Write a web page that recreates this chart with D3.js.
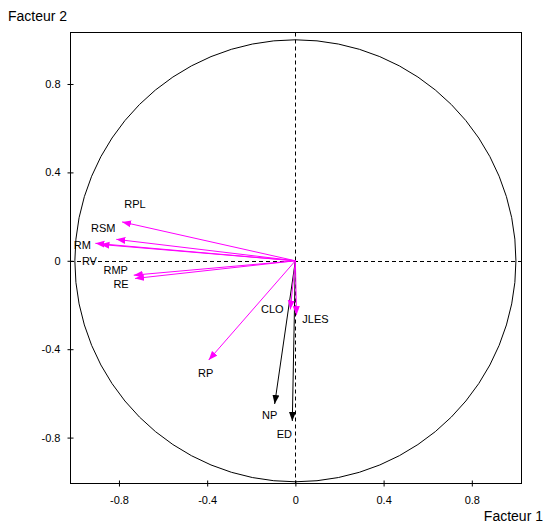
<!DOCTYPE html>
<html>
<head>
<meta charset="utf-8">
<script src="https://cdn.jsdelivr.net/npm/d3@7"></script>
<style>
  body { margin: 0; background: #fff; }
  svg text { font-family: "Liberation Sans", Arial, sans-serif; fill: #000; }
</style>
</head>
<body>
<div id="chart"></div>
<script>
// active variables (magenta) : coordinates on factor 1 / factor 2
const activeNames = ["RPL", "RSM", "RM", "RV", "RMP", "RE", "RP", "CLO", "JLES"];
const activeF1 = [-0.786, -0.812, -0.907, -0.884, -0.733, -0.727, -0.393, -0.023, 0.005];
const activeF2 = [0.176, 0.097, 0.079, 0.074, -0.065, -0.080, -0.449, -0.220, -0.246];

// supplementary variables (black)
const supNames = ["NP", "ED"];
const supF1 = [-0.094, -0.014];
const supF2 = [-0.648, -0.725];

const tickValues = [-0.8, -0.4, 0, 0.4, 0.8];

// label offsets (pixels) relative to arrow heads
const labelOffsets = {
    RPL: [13, -18], RSM: [-13, -11], RM: [-13, 2], RV: [-11, 17],
    RMP: [-18, -5], RE: [-14, 6], RP: [-3, 13], CLO: [-18, 0],
    JLES: [19, 4], NP: [-5, 11], ED: [-8, 13]
};

const width = 545, height = 525;
const x = d3.scaleLinear().domain([-1.022, 1.023]).range([70, 521]);
const y = d3.scaleLinear().domain([-1.01, 1.033]).range([484, 32.5]);

const svg = d3.select("#chart").append("svg")
    .attr("width", width)
    .attr("height", height);

const defs = svg.append("defs");
[["head-mag", "#ff00ff"], ["head-blk", "#000"]].forEach(([id, col]) => {
    defs.append("marker")
        .attr("id", id)
        .attr("markerUnits", "userSpaceOnUse")
        .attr("viewBox", "0 -4 10 8")
        .attr("refX", 9)
        .attr("refY", 0)
        .attr("markerWidth", 10)
        .attr("markerHeight", 8)
        .attr("orient", "auto")
        .append("path")
        .attr("d", "M0,-3.5L9,0L0,3.5Z")
        .attr("fill", col);
});

// unit circle
svg.append("ellipse")
    .attr("cx", x(0))
    .attr("cy", y(0))
    .attr("rx", x(1) - x(0))
    .attr("ry", y(0) - y(1))
    .attr("fill", "none")
    .attr("stroke", "#000")
    .attr("stroke-width", 1);

// dashed axes through origin
svg.append("line")
    .attr("x1", x.range()[0]).attr("x2", x.range()[1])
    .attr("y1", Math.round(y(0)) + 0.5).attr("y2", Math.round(y(0)) + 0.5)
    .attr("stroke", "#000").attr("stroke-dasharray", "4,3");
svg.append("line")
    .attr("x1", Math.round(x(0)) + 0.5).attr("x2", Math.round(x(0)) + 0.5)
    .attr("y1", y.range()[1]).attr("y2", y.range()[0])
    .attr("stroke", "#000").attr("stroke-dasharray", "4,3");

// frame
svg.append("rect")
    .attr("x", 70.5).attr("y", 32.5)
    .attr("width", 451).attr("height", 451)
    .attr("fill", "none")
    .attr("stroke", "#000");

// axes
const fmt = d => String(d);
const xAxis = svg.append("g")
    .attr("transform", "translate(0,483.5)")
    .call(d3.axisBottom(x).tickValues(tickValues).tickSize(3).tickFormat(fmt));
const yAxis = svg.append("g")
    .attr("transform", "translate(70.5,0)")
    .call(d3.axisLeft(y).tickValues(tickValues).tickSize(3).tickFormat(fmt));

[xAxis, yAxis].forEach(g => {
    g.select(".domain").remove();
    g.selectAll("text").attr("font-size", 11).attr("font-family", null);
});
xAxis.selectAll(".tick line").attr("y1", -3).attr("y2", 3);
xAxis.selectAll(".tick text").attr("y", 13);
yAxis.selectAll(".tick line").attr("x1", -3).attr("x2", 3);
yAxis.selectAll(".tick text").attr("x", -10);

// arrows
const sup = supNames.map((n, i) => ({ name: n, f1: supF1[i], f2: supF2[i], col: "#000", marker: "head-blk" }));
const act = activeNames.map((n, i) => ({ name: n, f1: activeF1[i], f2: activeF2[i], col: "#ff00ff", marker: "head-mag" }));
const all = sup.concat(act);

svg.append("g").selectAll("line")
    .data(all)
    .join("line")
    .attr("x1", x(0)).attr("y1", y(0))
    .attr("x2", d => x(d.f1)).attr("y2", d => y(d.f2))
    .attr("stroke", d => d.col)
    .attr("stroke-width", 1)
    .attr("marker-end", d => `url(#${d.marker})`);

svg.append("g").selectAll("text")
    .data(all)
    .join("text")
    .attr("x", d => x(d.f1) + labelOffsets[d.name][0])
    .attr("y", d => y(d.f2) + labelOffsets[d.name][1])
    .attr("dy", "0.35em")
    .attr("text-anchor", "middle")
    .attr("font-size", 11)
    .text(d => d.name);

// axis titles
svg.append("text")
    .attr("x", 8).attr("y", 21)
    .attr("font-size", 14)
    .text("Facteur 2");
svg.append("text")
    .attr("x", 543).attr("y", 521)
    .attr("text-anchor", "end")
    .attr("font-size", 14)
    .text("Facteur 1");
</script>
</body>
</html>
